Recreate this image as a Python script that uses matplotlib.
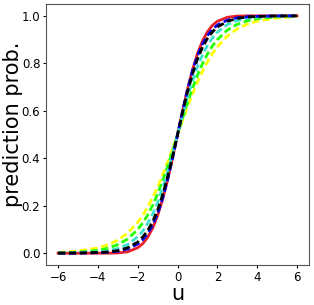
import matplotlib
matplotlib.use("Agg")
import matplotlib.pyplot as plt

# u grid and curve values (positive half mirrored: y(-u) = 1 - y(u))
U_POS = [0, 0.25, 0.5, 0.75, 1, 1.25, 1.5, 1.75, 2, 2.5, 3, 3.5, 4, 5, 6]

RED_POS = [0.5, 0.599, 0.691, 0.773, 0.841, 0.894, 0.933, 0.960, 0.977, 0.994, 0.999, 1.0, 1.0, 1.0, 1.0]
BLUE_POS = [0.5, 0.599, 0.690, 0.769, 0.832, 0.881, 0.917, 0.943, 0.961, 0.982, 0.992, 0.996, 0.998, 0.9997, 0.9999]
BLACK_POS = [0.5, 0.593, 0.679, 0.755, 0.818, 0.867, 0.905, 0.932, 0.953, 0.977, 0.989, 0.995, 0.9975, 0.9994, 0.9999]
CYAN_POS = [0.5, 0.581, 0.657, 0.726, 0.786, 0.835, 0.875, 0.907, 0.931, 0.963, 0.980, 0.990, 0.9945, 0.9985, 0.9996]
GREEN_POS = [0.5, 0.568, 0.634, 0.695, 0.750, 0.798, 0.839, 0.873, 0.900, 0.940, 0.964, 0.979, 0.988, 0.996, 0.9986]
YELLOW_POS = [0.5, 0.559, 0.617, 0.671, 0.721, 0.766, 0.806, 0.841, 0.870, 0.915, 0.945, 0.965, 0.978, 0.991, 0.997]


def mirror(pos_vals):
    neg = [round(1 - v, 4) for v in pos_vals[:0:-1]]
    return neg + list(pos_vals)


u = [-x for x in U_POS[:0:-1]] + U_POS

fig = plt.figure(figsize=(3.14, 3.05), dpi=100)
ax = fig.add_axes([0.147, 0.131, 0.837, 0.856])

dash = (0, (2.6, 1.3))
ax.plot(u, mirror(RED_POS), color="#e8202a", lw=2.0, zorder=2)
ax.plot(u, mirror(YELLOW_POS), color="#ffff00", lw=2.0, ls=dash, zorder=3)
ax.plot(u, mirror(GREEN_POS), color="#22ff00", lw=2.0, ls=dash, zorder=4)
ax.plot(u, mirror(CYAN_POS), color="#40e0d0", lw=2.0, ls=dash, zorder=5)
ax.plot(u, mirror(BLUE_POS), color="#0000ff", lw=2.0, ls=dash, zorder=6)
ax.plot(u, mirror(BLACK_POS), color="#000000", lw=2.0, ls=dash, zorder=7)

ax.set_xticks([-6, -4, -2, 0, 2, 4, 6])
ax.set_yticks([0.0, 0.2, 0.4, 0.6, 0.8, 1.0])
ax.tick_params(labelsize=8.5, length=2.2, pad=2.0)
for side in ax.spines.values():
    side.set_color("#555555")
ax.set_xlabel("u", fontsize=15, labelpad=0)
ax.set_ylabel("prediction prob.", fontsize=15)
ax.yaxis.set_label_coords(-0.09, 0.54)

fig.savefig("out.png", dpi=100)
